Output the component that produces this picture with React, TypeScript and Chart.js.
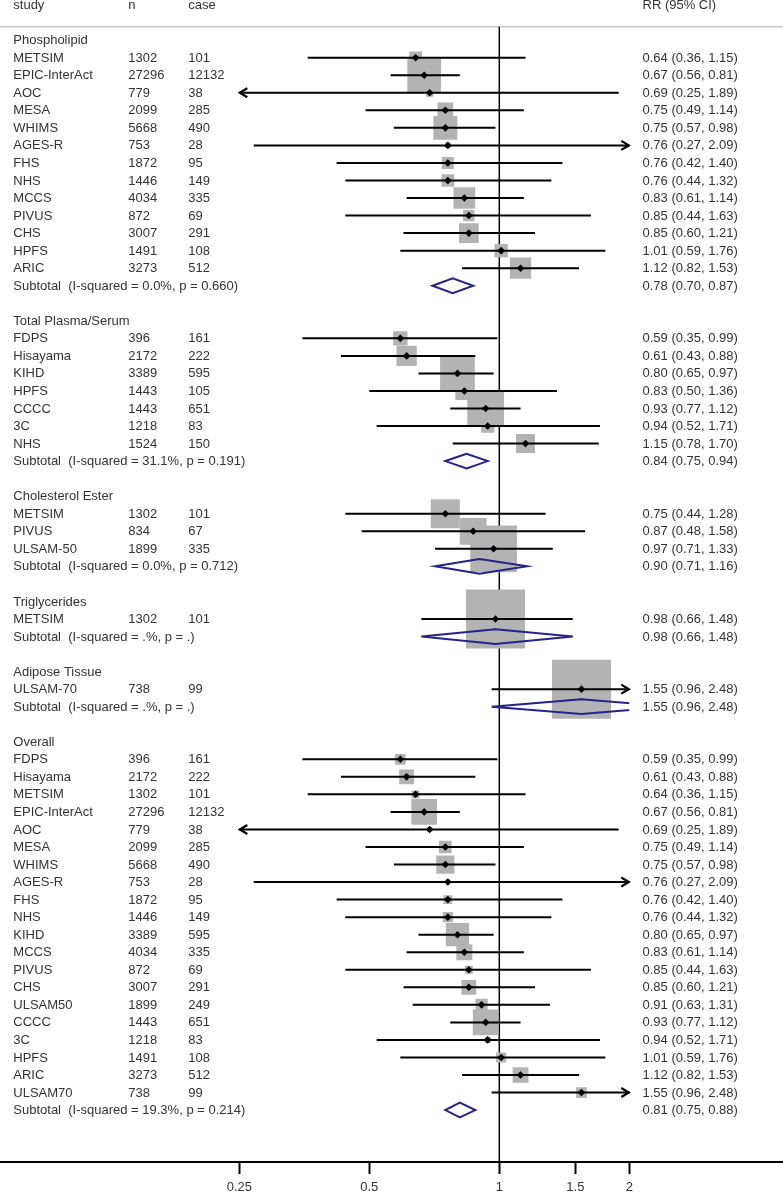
import React, { useEffect, useRef } from 'react';
import { Chart, registerables } from 'chart.js';

Chart.register(...registerables);

// ---------------- data ----------------
const HEADER = ['study', 'n', 'case', 'RR (95% CI)'];
const GROUP_NAMES = ['Phospholipid', 'Total Plasma/Serum', 'Cholesterol Ester', 'Triglycerides', 'Adipose Tissue', 'Overall'];

const PL_STUDY = ['METSIM', 'EPIC-InterAct', 'AOC', 'MESA', 'WHIMS', 'AGES-R', 'FHS', 'NHS', 'MCCS', 'PIVUS', 'CHS', 'HPFS', 'ARIC'];
const PL_N = [1302, 27296, 779, 2099, 5668, 753, 1872, 1446, 4034, 872, 3007, 1491, 3273];
const PL_CASE = [101, 12132, 38, 285, 490, 28, 95, 149, 335, 69, 291, 108, 512];
const PL_RR = [0.64, 0.67, 0.69, 0.75, 0.75, 0.76, 0.76, 0.76, 0.83, 0.85, 0.85, 1.01, 1.12];
const PL_LO = [0.36, 0.56, 0.25, 0.49, 0.57, 0.27, 0.42, 0.44, 0.61, 0.44, 0.60, 0.59, 0.82];
const PL_HI = [1.15, 0.81, 1.89, 1.14, 0.98, 2.09, 1.40, 1.32, 1.14, 1.63, 1.21, 1.76, 1.53];
const PL_WT = [4.6, 32.6, 1.7, 7.1, 16.5, 1.0, 4.1, 4.6, 13.5, 3.7, 11.1, 5.1, 13.0];

const TP_STUDY = ['FDPS', 'Hisayama', 'KIHD', 'HPFS', 'CCCC', '3C', 'NHS'];
const TP_N = [396, 2172, 3389, 1443, 1443, 1218, 1524];
const TP_CASE = [161, 222, 595, 105, 651, 83, 150];
const TP_RR = [0.59, 0.61, 0.80, 0.83, 0.93, 0.94, 1.15];
const TP_LO = [0.35, 0.43, 0.65, 0.50, 0.77, 0.52, 0.78];
const TP_HI = [0.99, 0.88, 0.97, 1.36, 1.12, 1.71, 1.70];
const TP_WT = [5.9, 11.8, 34.6, 9.3, 38.7, 5.1, 10.4];

const CE_STUDY = ['METSIM', 'PIVUS', 'ULSAM-50'];
const CE_N = [1302, 834, 1899];
const CE_CASE = [101, 67, 335];
const CE_RR = [0.75, 0.87, 0.97];
const CE_LO = [0.44, 0.48, 0.71];
const CE_HI = [1.28, 1.58, 1.33];
const CE_WT = [24.2, 20.5, 62.7];

const TG_STUDY = ['METSIM'];
const TG_N = [1302];
const TG_CASE = [101];
const TG_RR = [0.98];
const TG_LO = [0.66];
const TG_HI = [1.48];
const TG_WT = [100];

const AT_STUDY = ['ULSAM-70'];
const AT_N = [738];
const AT_CASE = [99];
const AT_RR = [1.55];
const AT_LO = [0.96];
const AT_HI = [2.48];
const AT_WT = [100];

const OV_STUDY = ['FDPS', 'Hisayama', 'METSIM', 'EPIC-InterAct', 'AOC', 'MESA', 'WHIMS', 'AGES-R', 'FHS', 'NHS', 'KIHD', 'MCCS', 'PIVUS', 'CHS', 'ULSAM50', 'CCCC', '3C', 'HPFS', 'ARIC', 'ULSAM70'];
const OV_N = [396, 2172, 1302, 27296, 779, 2099, 5668, 753, 1872, 1446, 3389, 4034, 872, 3007, 1899, 1443, 1218, 1491, 3273, 738];
const OV_CASE = [161, 222, 101, 12132, 38, 285, 490, 28, 95, 149, 595, 335, 69, 291, 249, 651, 83, 108, 512, 99];
const OV_RR = [0.59, 0.61, 0.64, 0.67, 0.69, 0.75, 0.75, 0.76, 0.76, 0.76, 0.80, 0.83, 0.85, 0.85, 0.91, 0.93, 0.94, 1.01, 1.12, 1.55];
const OV_LO = [0.35, 0.43, 0.36, 0.56, 0.25, 0.49, 0.57, 0.27, 0.42, 0.44, 0.65, 0.61, 0.44, 0.60, 0.63, 0.77, 0.52, 0.59, 0.82, 0.96];
const OV_HI = [0.99, 0.88, 1.15, 0.81, 1.89, 1.14, 0.98, 2.09, 1.40, 1.32, 0.97, 1.14, 1.63, 1.21, 1.31, 1.12, 1.71, 1.76, 1.53, 2.48];
const OV_WT = [3.3, 6.2, 1.8, 19.0, 0.7, 4.6, 9.6, 0.6, 2.2, 2.9, 15.6, 7.4, 1.8, 6.2, 4.3, 19.0, 1.1, 2.9, 7.1, 3.3];

const SUB_RR = [0.78, 0.84, 0.90, 0.98, 1.55, 0.81];
const SUB_LO = [0.70, 0.75, 0.71, 0.66, 0.96, 0.75];
const SUB_HI = [0.87, 0.94, 1.16, 1.48, 2.48, 0.88];
const SUB_I2: (number | null)[] = [0.0, 31.1, 0.0, null, null, 19.3];
const SUB_P: (number | null)[] = [0.660, 0.191, 0.712, null, null, 0.214];

const AXIS_TICKS = [0.25, 0.5, 1, 1.5, 2];
const X_MIN = 0.25;
const X_MAX = 2;

// ---------------- layout / style ----------------
const W = 783;
const H = 1194;
const FONT = '"Liberation Sans", Arial, Helvetica, sans-serif';
const TEXT = '#333333';
const BOX_COLOR = '#b3b3b3';
const NAVY = '#24248a';
const COL_X = [13.3, 128.3, 188.3, 642.5];
const BOX_SCALE = 5.9;
const DIAMOND_HALF = 0.42;
const Y_MIN = -0.29;
const Y_EXTRA = 2.96;
const RULE_ROW = 1.233;

type Row = {
  kind: 'header' | 'group' | 'study' | 'sub';
  r: number;
  label?: string;
  n?: number;
  cs?: number;
  rr?: number;
  lo?: number;
  hi?: number;
  wt?: number;
  i2?: number | null;
  p?: number | null;
};

const GROUPS = [
  { s: PL_STUDY, n: PL_N, c: PL_CASE, rr: PL_RR, lo: PL_LO, hi: PL_HI, w: PL_WT },
  { s: TP_STUDY, n: TP_N, c: TP_CASE, rr: TP_RR, lo: TP_LO, hi: TP_HI, w: TP_WT },
  { s: CE_STUDY, n: CE_N, c: CE_CASE, rr: CE_RR, lo: CE_LO, hi: CE_HI, w: CE_WT },
  { s: TG_STUDY, n: TG_N, c: TG_CASE, rr: TG_RR, lo: TG_LO, hi: TG_HI, w: TG_WT },
  { s: AT_STUDY, n: AT_N, c: AT_CASE, rr: AT_RR, lo: AT_LO, hi: AT_HI, w: AT_WT },
  { s: OV_STUDY, n: OV_N, c: OV_CASE, rr: OV_RR, lo: OV_LO, hi: OV_HI, w: OV_WT },
];

function buildRows(): Row[] {
  const rows: Row[] = [{ kind: 'header', r: 0 }];
  let r = 2;
  GROUPS.forEach((g, gi) => {
    rows.push({ kind: 'group', r, label: GROUP_NAMES[gi] });
    r++;
    g.s.forEach((name, i) => {
      rows.push({ kind: 'study', r, label: name, n: g.n[i], cs: g.c[i], rr: g.rr[i], lo: g.lo[i], hi: g.hi[i], wt: g.w[i] });
      r++;
    });
    rows.push({ kind: 'sub', r, rr: SUB_RR[gi], lo: SUB_LO[gi], hi: SUB_HI[gi], i2: SUB_I2[gi], p: SUB_P[gi] });
    r += 2;
  });
  return rows;
}

const fmt = (v: number) => v.toFixed(2);

export default function App() {
  const ref = useRef<HTMLCanvasElement>(null);

  useEffect(() => {
    const canvas = ref.current;
    if (!canvas) return;
    const rows = buildRows();
    const lastRow = rows[rows.length - 1].r;
    const yMax = lastRow + Y_EXTRA;

    const boxes: any[] = [];
    const boxR: number[] = [];
    const marks: any[] = [];
    const ci: any[] = [];
    const dia: any[] = [];
    rows.forEach((row) => {
      if (row.kind === 'study') {
        boxes.push({ x: row.rr, y: row.r });
        boxR.push((BOX_SCALE * Math.sqrt(row.wt!)) / Math.SQRT2);
        marks.push({ x: row.rr, y: row.r });
        ci.push({ x: row.lo, y: row.r }, { x: row.hi, y: row.r }, { x: row.rr, y: null });
      } else if (row.kind === 'sub') {
        dia.push(
          { x: row.lo, y: row.r },
          { x: row.rr, y: row.r - DIAMOND_HALF },
          { x: row.hi, y: row.r },
          { x: row.rr, y: row.r + DIAMOND_HALF },
          { x: row.lo, y: row.r },
          { x: row.rr, y: row.r - DIAMOND_HALF },
          { x: row.rr, y: null }
        );
      }
    });
    const vline = [
      { x: 1, y: RULE_ROW },
      { x: 1, y: yMax },
    ];

    const forestPlugin = {
      id: 'forestText',
      beforeDatasetsDraw(chart: any) {
        const ctx = chart.ctx as CanvasRenderingContext2D;
        const ys = chart.scales.y;
        ctx.save();
        ctx.strokeStyle = '#c8c8c8';
        ctx.lineWidth = 1.5;
        const gy = ys.getPixelForValue(RULE_ROW);
        ctx.beginPath();
        ctx.moveTo(0, gy);
        ctx.lineTo(W, gy);
        ctx.stroke();
        ctx.strokeStyle = '#000';
        ctx.lineWidth = 2;
        const by = chart.chartArea.bottom;
        ctx.beginPath();
        ctx.moveTo(0, by);
        ctx.lineTo(W, by);
        ctx.stroke();
        ctx.restore();
      },
      afterDatasetsDraw(chart: any) {
        const ctx = chart.ctx as CanvasRenderingContext2D;
        const xs = chart.scales.x;
        const ys = chart.scales.y;
        ctx.save();
        ctx.strokeStyle = '#000';
        ctx.lineWidth = 2.2;
        ctx.lineJoin = 'miter';
        const arrow = (tip: number, y: number, dir: number) => {
          ctx.beginPath();
          ctx.moveTo(tip - dir * 8, y - 4.5);
          ctx.lineTo(tip - dir * 0.5, y);
          ctx.lineTo(tip - dir * 8, y + 4.5);
          ctx.stroke();
        };
        rows.forEach((row) => {
          if (row.kind !== 'study') return;
          const y = ys.getPixelForValue(row.r);
          if (row.lo! <= X_MIN) arrow(xs.getPixelForValue(X_MIN), y, -1);
          if (row.hi! >= X_MAX) arrow(xs.getPixelForValue(X_MAX), y, 1);
        });
        ctx.restore();
      },
      afterDraw(chart: any) {
        const ctx = chart.ctx as CanvasRenderingContext2D;
        const ys = chart.scales.y;
        ctx.save();
        ctx.font = `13px ${FONT}`;
        ctx.fillStyle = TEXT;
        ctx.textAlign = 'left';
        ctx.textBaseline = 'middle';
        rows.forEach((row) => {
          const y = ys.getPixelForValue(row.r) + 0.5;
          if (row.kind === 'header') {
            HEADER.forEach((t, i) => ctx.fillText(t, COL_X[i], y));
          } else if (row.kind === 'group') {
            ctx.fillText(row.label!, COL_X[0], y);
          } else if (row.kind === 'study') {
            ctx.fillText(row.label!, COL_X[0], y);
            ctx.fillText(String(row.n), COL_X[1], y);
            ctx.fillText(String(row.cs), COL_X[2], y);
            ctx.fillText(`${fmt(row.rr!)} (${fmt(row.lo!)}, ${fmt(row.hi!)})`, COL_X[3], y);
          } else if (row.kind === 'sub') {
            const i2 = row.i2 == null ? '.' : row.i2.toFixed(1);
            const p = row.p == null ? '.' : row.p.toFixed(3);
            ctx.fillText(`Subtotal  (I-squared = ${i2}%, p = ${p})`, COL_X[0], y);
            ctx.fillText(`${fmt(row.rr!)} (${fmt(row.lo!)}, ${fmt(row.hi!)})`, COL_X[3], y);
          }
        });
        ctx.restore();
      },
    };

    const chart = new Chart(canvas, {
      type: 'scatter',
      data: {
        datasets: [
          { type: 'line', data: vline, borderColor: '#000', borderWidth: 1.5, pointRadius: 0, order: 5 } as any,
          { type: 'scatter', data: boxes, pointStyle: 'rect', pointRadius: boxR, backgroundColor: BOX_COLOR, borderWidth: 0, order: 4 } as any,
          { type: 'line', data: ci, borderColor: '#000', borderWidth: 2, pointRadius: 0, spanGaps: false, order: 3 } as any,
          { type: 'scatter', data: marks, pointStyle: 'rectRot', pointRadius: 3.8, backgroundColor: '#000', borderWidth: 0, order: 2 } as any,
          { type: 'line', data: dia, borderColor: NAVY, borderWidth: 2, pointRadius: 0, spanGaps: false, borderJoinStyle: 'miter', order: 1 } as any,
        ],
      },
      options: {
        responsive: false,
        animation: false,
        events: [],
        layout: { autoPadding: false, padding: { left: 239.3, right: W - 629.3, top: 0, bottom: 0 } },
        plugins: { legend: { display: false }, tooltip: { enabled: false } },
        scales: {
          x: {
            type: 'logarithmic',
            min: X_MIN,
            max: X_MAX,
            position: 'bottom',
            afterFit: (s: any) => {
              s.height = 32;
            },
            afterBuildTicks: (s: any) => {
              s.ticks = AXIS_TICKS.map((v) => ({ value: v }));
            },
            grid: { drawOnChartArea: false, drawTicks: true, tickLength: 12, tickWidth: 2, tickColor: '#000' },
            border: { display: false },
            ticks: {
              autoSkip: false,
              maxRotation: 0,
              padding: 6,
              color: TEXT,
              font: { family: FONT, size: 13 },
              callback: (v: any) => String(v),
            },
          },
          y: { type: 'linear', reverse: true, min: Y_MIN, max: yMax, display: false },
        },
      } as any,
      plugins: [forestPlugin],
    });
    return () => chart.destroy();
  }, []);

  return (
    <div style={{ position: 'fixed', left: 0, top: 0, width: W, height: H, background: '#fff' }}>
      <canvas ref={ref} width={W} height={H} style={{ display: 'block', width: W, height: H }} />
    </div>
  );
}
